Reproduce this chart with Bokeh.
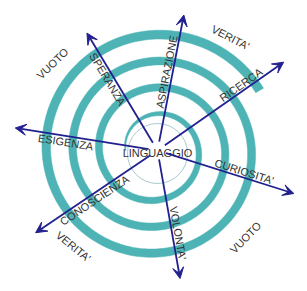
import numpy as np
from bokeh.plotting import figure
from bokeh.models import Arrow, VeeHead, Range1d
from bokeh.embed import file_html
from bokeh.resources import INLINE
from bokeh.core.properties import value

# ---- data ----
arrow_labels = ["SPERANZA", "ASPIRAZIONE", "RICERCA", "CURIOSITA'", "VOLONTA'", "CONOSCIENZA", "ESIGENZA"]
arrow_angle = [121, 79, 35, -17.5, -80, 214, 171]        # degrees, counter-clockwise
arrow_length = [137, 138, 154, 143, 130, 147, 144]
label_dist = [87, 79, 106, 89, 85, 80, 92]
label_baseline = ["top", "bottom", "bottom", "bottom", "bottom", "top", "top"]
label_reversed = [True, False, False, False, False, True, True]

outer_labels = ["VUOTO", "VERITA'", "VERITA'", "VUOTO"]
outer_x = [52, 230, 73, 245]
outer_y = [63, 37, 246, 237]          # measured from top
outer_angle = [44, -27, -39, 46]

center_label = "LINGUAGGIO"

# spiral parameters
spiral_turn_start = 180     # degrees clockwise from right
spiral_turn_end = 1410
spiral_r_start = 30
spiral_pitch = 26.4         # radius gain per turn

H = 291
TEAL = "#4db3b5"
NAVY = "#22208f"
TXT = "#333333"
FONT = value("Liberation Sans")
FS = "11px"

p = figure(width=295, height=283, x_range=Range1d(0, 295), y_range=Range1d(8, 291),
           output_backend="svg", toolbar_location=None, min_border=0)
p.axis.visible = False
p.grid.visible = False
p.outline_line_color = None
p.background_fill_color = "white"

# ---- spiral ----
scx, scy = 155, H - 150
phi = np.linspace(spiral_turn_start, spiral_turn_end, 800)
r = spiral_r_start + (phi - spiral_turn_start) * spiral_pitch / 360.0
w = np.interp(phi, [180, 300, 520, 1100, 1410], [1.0, 5.0, 7.0, 8.0, 9.0])
th = np.radians(-phi)
ro, ri = r + w / 2, r - w / 2
xs = np.concatenate([scx + ro * np.cos(th), (scx + ri * np.cos(th))[::-1]])
ys = np.concatenate([scy + ro * np.sin(th), (scy + ri * np.sin(th))[::-1]])
p.patch(xs, ys, fill_color=TEAL, line_color=TEAL, line_width=0.5)

# thin inner circle
p.circle(x=[157], y=[H - 153], radius=30, fill_color=None, line_color="#a8cccc", line_width=1)

# ---- arrows ----
acx, acy = 157, H - 150
start_r = 9
a = np.radians(arrow_angle)
L = np.array(arrow_length)
x0 = acx + start_r * np.cos(a)
y0 = acy + start_r * np.sin(a)
x1 = acx + L * np.cos(a)
y1 = acy + L * np.sin(a)
for i in range(len(arrow_labels)):
    p.add_layout(Arrow(end=VeeHead(size=11, fill_color=NAVY, line_color=NAVY, line_width=1),
                       x_start=x0[i], y_start=y0[i], x_end=x1[i], y_end=y1[i],
                       line_color=NAVY, line_width=1.8))

# ---- arrow labels ----
d = np.array(label_dist)
lx = acx + d * np.cos(a)
ly = acy + d * np.sin(a)
tang = [np.radians(ang - 180 if rev else ang) for ang, rev in zip(arrow_angle, label_reversed)]
for i, lab in enumerate(arrow_labels):
    p.text(x=[lx[i]], y=[ly[i]], text=[lab], angle=tang[i], text_align="center",
           text_baseline=label_baseline[i], text_font=FONT, text_font_size=FS,
           text_color=TXT)

# ---- outer labels ----
p.text(x=outer_x, y=[H - v for v in outer_y], text=outer_labels,
       angle=[np.radians(v) for v in outer_angle], text_align="center", text_baseline="middle",
       text_font=FONT, text_font_size=FS, text_color=TXT)

# center label
p.text(x=[157], y=[H - 152], text=[center_label], text_align="center", text_baseline="middle",
       text_font=FONT, text_font_size=FS, text_color=TXT)

open("out.html", "w").write(file_html(p, INLINE))
